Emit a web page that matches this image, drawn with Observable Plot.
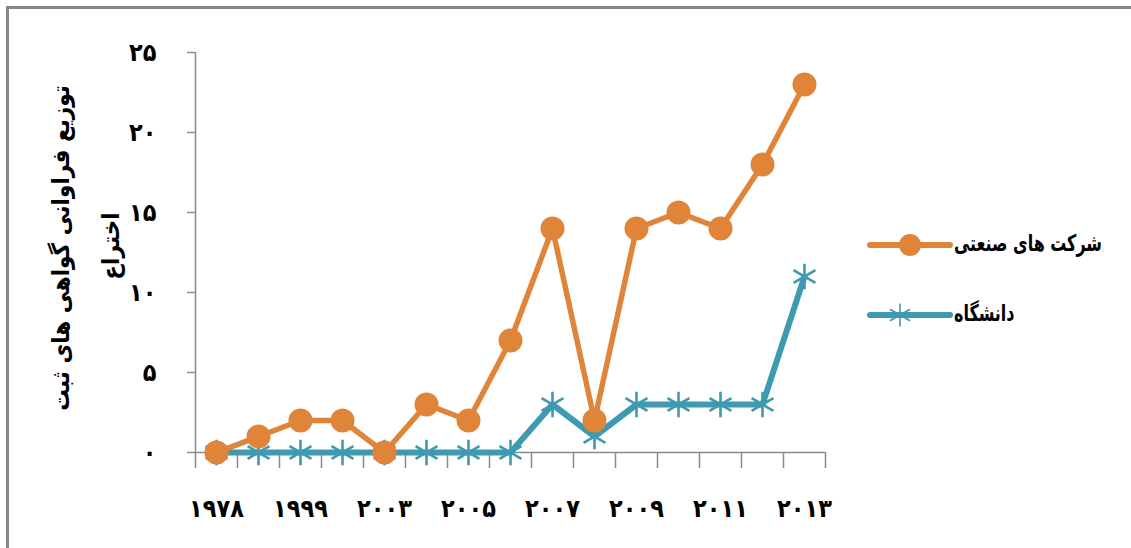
<!DOCTYPE html>
<html><head><meta charset="utf-8">
<script src="https://cdn.jsdelivr.net/npm/d3@7"></script>
<script src="https://cdn.jsdelivr.net/npm/@observablehq/plot@0.6"></script>
<style>
body{margin:0;background:#fff;}
#wrap{position:relative;width:1131px;height:548px;overflow:hidden;background:#fff;font-family:"DejaVu Sans Condensed","DejaVu Sans",sans-serif;}
#border{position:absolute;left:6px;top:6px;width:1200px;height:600px;border-left:3px solid #878787;border-top:3px solid #878787;}
#chart{position:absolute;left:0;top:0;}
.ytitle{position:absolute;width:400px;height:28px;line-height:28px;text-align:center;font-weight:bold;font-size:24px;transform:rotate(-90deg);transform-origin:50% 50%;direction:rtl;color:#000;}
.leg{position:absolute;height:30px;}
.leg svg{position:absolute;left:0;top:0;}
.leg span{position:absolute;top:0px;white-space:nowrap;font-weight:bold;font-size:23px;direction:rtl;color:#000;transform:scaleX(0.77);transform-origin:0 50%;}
</style></head>
<body>
<div id="wrap">
  <div id="border"></div>
  <div id="chart"></div>
  <div class="ytitle" style="left:-139px;top:234px;">توزیع فراوانی گواهی های ثبت</div>
  <div class="ytitle" style="left:-89px;top:232px;">اختراع</div>
  <div class="leg" id="leg1" style="left:866px;top:230px;"></div>
  <div class="leg" id="leg2" style="left:866px;top:300px;"></div>
</div>
<script>
// ---- data ----
const years = ["1978","1995","1999","2001","2003","2004","2005","2006","2007","2008","2009","2010","2011","2012","2013"];
const industry = [0,1,2,2,0,3,2,7,14,2,14,15,14,18,23];
const university = [0,0,0,0,0,0,0,0,3,1,3,3,3,3,11];
const yTicks = [0,5,10,15,20,25];
const labelIndex = [0,2,4,6,8,10,12,14];
const seriesNames = ["شرکت های صنعتی","دانشگاه"];
const colors = ["#E0843A","#3D9AB1"];

const fa = v => String(v).replace(/\d/g, d => "۰۱۲۳۴۵۶۷۸۹"[d]);
const rows = years.map((y, i) => ({i, year: y, industry: industry[i], university: university[i]}));
const bounds = d3.range(years.length + 1).map(i => i - 0.5);
const axisColor = "#8a8a8a";

const plot = Plot.plot({
  width: 1131, height: 548,
  marginLeft: 195, marginRight: 306, marginTop: 52, marginBottom: 96,
  x: {type: "linear", domain: [-0.5, years.length - 0.5]},
  y: {domain: [0, 25]},
  style: {background: "transparent", fontFamily: "'DejaVu Sans Condensed','DejaVu Sans',sans-serif", fontSize: "25px", fontWeight: "bold", color: "#000"},
  marks: [
    Plot.ruleY([0], {stroke: axisColor, strokeWidth: 1.5}),
    Plot.ruleX([-0.5], {stroke: axisColor, strokeWidth: 1.5}),
    Plot.axisY({ticks: yTicks, tickFormat: fa, tickSize: 8, tickPadding: 31, stroke: axisColor, strokeWidth: 1.5, label: null, fill: "#000"}),
    Plot.axisX({ticks: bounds, tickFormat: () => "", tickSize: 16, stroke: axisColor, strokeWidth: 1.5, label: null}),
    Plot.axisX({ticks: labelIndex, tickSize: 0, tickPadding: 47, tickFormat: i => fa(years[i]), label: null, fill: "#000"}),
    Plot.line(rows, {x: "i", y: "university", stroke: colors[1], strokeWidth: 6, curve: "linear"}),
    Plot.dot(rows, {x: "i", y: "university", symbol: "asterisk", r: 12, stroke: colors[1], strokeWidth: 2.6}),
    Plot.line(rows, {x: "i", y: "industry", stroke: colors[0], strokeWidth: 5.5, curve: "linear"}),
    Plot.dot(rows, {x: "i", y: "industry", r: 12, fill: colors[0], stroke: "none"})
  ]
});
document.getElementById("chart").appendChild(plot);

// ---- legend ----
function legend(id, name, color, kind) {
  const el = document.getElementById(id);
  const svg = d3.select(el).append("svg").attr("width", 90).attr("height", 30);
  svg.append("line").attr("x1", 4).attr("x2", 84).attr("y1", 15).attr("y2", 15)
    .attr("stroke", color).attr("stroke-width", 6).attr("stroke-linecap", "round");
  if (kind === "circle") {
    svg.append("circle").attr("cx", 44).attr("cy", 15).attr("r", 11).attr("fill", color);
  } else {
    svg.append("path").attr("transform", "translate(34,15)")
      .attr("d", d3.symbol(d3.symbolAsterisk, 380)())
      .attr("stroke", color).attr("stroke-width", 1.6).attr("fill", "none");
  }
  const sp = document.createElement("span");
  sp.textContent = name;
  sp.style.left = "88px";
  el.appendChild(sp);
}
legend("leg1", seriesNames[0], colors[0], "circle");
legend("leg2", seriesNames[1], colors[1], "asterisk");
</script>
</body></html>
